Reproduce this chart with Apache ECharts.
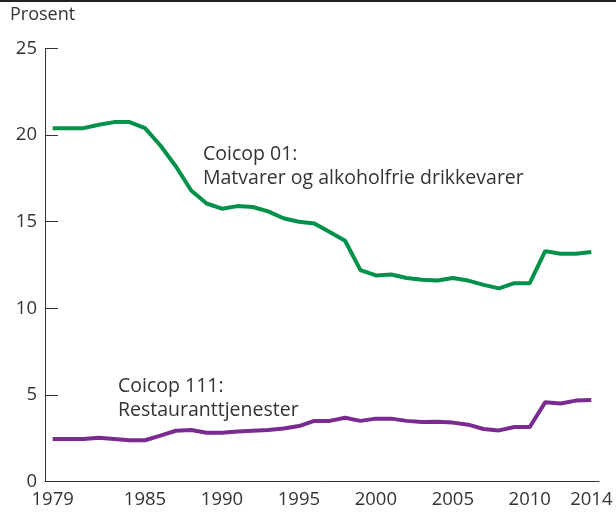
<!DOCTYPE html>
<html>
<head>
<meta charset="utf-8">
<script src="https://cdn.jsdelivr.net/npm/echarts@6/dist/echarts.min.js"></script>
<style>
  html, body { margin: 0; padding: 0; background: #fff; }
  #chart { width: 616px; height: 513px; }
</style>
</head>
<body>
<div id="chart"></div>
<script>
  // years 1979-2014
  var years = [];
  for (var y = 1979; y <= 2014; y++) years.push(String(y));

  var labelYears = ['1979', '1985', '1990', '1995', '2000', '2005', '2010', '2014'];

  var matvarer = [20.4, 20.4, 20.4, 20.6, 20.75, 20.75, 20.4, 19.4, 18.2, 16.8, 16.05, 15.75,
    15.9, 15.85, 15.6, 15.2, 15.0, 14.9, 14.4, 13.9, 12.2, 11.9, 11.95, 11.75,
    11.65, 11.6, 11.75, 11.6, 11.35, 11.15, 11.45, 11.45, 13.3, 13.15, 13.15, 13.25];

  var restaurant = [2.45, 2.45, 2.45, 2.52, 2.45, 2.38, 2.38, 2.65, 2.93, 2.97, 2.82, 2.82,
    2.88, 2.93, 2.98, 3.06, 3.2, 3.5, 3.5, 3.68, 3.5, 3.63, 3.63, 3.5,
    3.43, 3.45, 3.4, 3.28, 3.03, 2.95, 3.15, 3.15, 4.57, 4.5, 4.67, 4.7];

  var yTicks = [0, 5, 10, 15, 20, 25];

  var font = 'Open Sans';
  var textColor = '#333333';

  var chart = echarts.init(document.getElementById('chart'));
  var option = {
    backgroundColor: '#ffffff',
    animation: false,
    grid: { left: 45, right: 17, top: 48.5, bottom: 31.5 },
    xAxis: {
      type: 'category',
      data: years,
      boundaryGap: true,
      axisLine: { lineStyle: { color: '#333333', width: 1 } },
      axisTick: {
        inside: true,
        alignWithLabel: true,
        interval: 0,
        length: 11,
        lineStyle: { color: '#333333' }
      },
      axisLabel: {
        interval: function (index, value) { return labelYears.indexOf(value) >= 0; },
        color: textColor,
        fontFamily: font,
        fontSize: 18.5,
        margin: 9
      },
      splitLine: { show: false }
    },
    yAxis: {
      type: 'value',
      min: yTicks[0],
      max: yTicks[yTicks.length - 1],
      interval: 5,
      axisLine: { show: true, lineStyle: { color: '#333333', width: 1 } },
      axisTick: { show: true, inside: true, length: 13, lineStyle: { color: '#333333' } },
      axisLabel: {
        color: textColor,
        fontFamily: font,
        fontSize: 18.5,
        margin: 8
      },
      splitLine: { show: false }
    },
    graphic: [
      { type: 'rect', left: 0, top: 0, shape: { width: 616, height: 2 }, style: { fill: '#222222' } },
      { type: 'text', left: 10, top: 6, style: { text: 'Prosent', fill: textColor, font: '18px "Open Sans"' } },
      { type: 'text', left: 203, top: 142, style: { text: 'Coicop 01:\nMatvarer og alkoholfrie drikkevarer', fill: textColor, font: '19.5px "Open Sans"', lineHeight: 24 } },
      { type: 'text', left: 118, top: 374, style: { text: 'Coicop 111:\nRestauranttjenester', fill: textColor, font: '19.5px "Open Sans"', lineHeight: 24 } }
    ],
    series: [
      {
        name: 'Coicop 01',
        type: 'line',
        data: matvarer,
        symbol: 'none',
        lineStyle: { color: '#00924a', width: 4 }
      },
      {
        name: 'Coicop 111',
        type: 'line',
        data: restaurant,
        symbol: 'none',
        lineStyle: { color: '#7a2b92', width: 4 }
      }
    ]
  };
  chart.setOption(option);
</script>
</body>
</html>
